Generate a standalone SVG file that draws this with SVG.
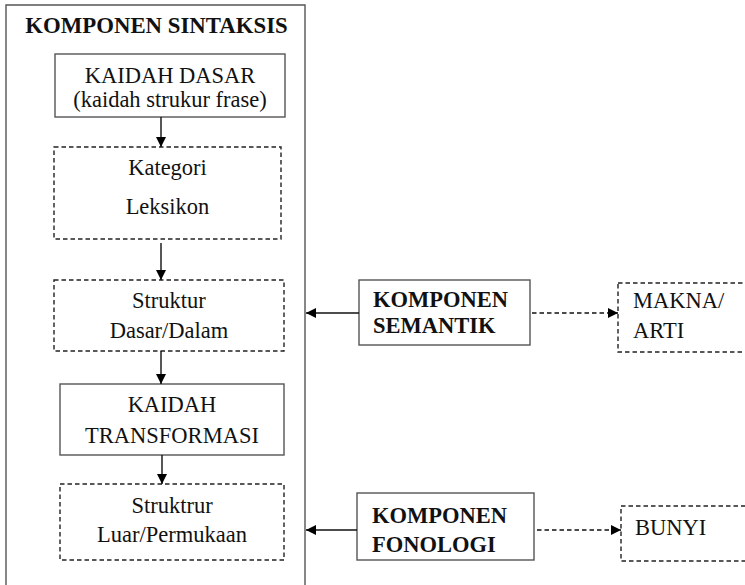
<svg xmlns="http://www.w3.org/2000/svg" width="745" height="585" viewBox="0 0 745 585">
  <defs>
    <marker id="arrow" viewBox="0 0 10 10" refX="10" refY="5" markerWidth="10" markerHeight="10" markerUnits="userSpaceOnUse" orient="auto">
      <path d="M0,0 L10,5 L0,10 Z" fill="#000"/>
    </marker>
  </defs>
  <style>
    text { font-family: 'Liberation Serif', 'Times New Roman', serif; font-size: 22.5px; fill: #111; }
    .b { font-weight: bold; }
    .t { font-size: 22.8px; }
    .c { text-anchor: middle; }
    .solid { fill: #fff; stroke: #555; stroke-width: 1.4; }
    .dash { fill: #fff; stroke: #222; stroke-width: 1.4; stroke-dasharray: 4.5 3; }
    .edge { stroke: #111; stroke-width: 1.4; fill: none; }
    .edge.d { stroke-dasharray: 4.5 3; }
  </style>
  <rect width="745" height="585" fill="#fff"/>

  <!-- syntax component frame (open at bottom) -->
  <g id="sintaksis">
    <path d="M6,590 L6,5 L305,5 L305,590" fill="none" stroke="#555" stroke-width="1.4"/>
    <text class="b c t" x="156.5" y="33">KOMPONEN SINTAKSIS</text>
  </g>

  <g id="kaidah-dasar">
    <rect class="solid" x="55" y="54" width="230" height="63"/>
    <text class="c" x="170" y="83">KAIDAH DASAR</text>
    <text class="c" x="170" y="107">(kaidah strukur frase)</text>
  </g>

  <g id="kategori-leksikon">
    <rect class="dash" x="54" y="147" width="227" height="92"/>
    <text class="c" x="167.5" y="175">Kategori</text>
    <text class="c" x="167.5" y="214">Leksikon</text>
  </g>

  <g id="struktur-dalam">
    <rect class="dash" x="54" y="280" width="230" height="71"/>
    <text class="c" x="169" y="308">Struktur</text>
    <text class="c" x="169" y="338">Dasar/Dalam</text>
  </g>

  <g id="kaidah-transformasi">
    <rect class="solid" x="60" y="384" width="224" height="71"/>
    <text class="c" x="172" y="412">KAIDAH</text>
    <text class="c" x="172" y="443">TRANSFORMASI</text>
  </g>

  <g id="struktur-luar">
    <rect class="dash" x="60" y="484" width="224" height="76"/>
    <text class="c" x="172" y="513">Struktrur</text>
    <text class="c" x="172" y="542">Luar/Permukaan</text>
  </g>

  <g id="semantik">
    <rect class="solid" x="359" y="280" width="171" height="65"/>
    <text class="b" x="373" y="307">KOMPONEN</text>
    <text class="b" x="373" y="333">SEMANTIK</text>
  </g>

  <g id="makna">
    <rect class="dash" x="618" y="283" width="140" height="69"/>
    <text x="633" y="308">MAKNA/</text>
    <text x="633" y="338">ARTI</text>
  </g>

  <g id="fonologi">
    <rect class="solid" x="357" y="493" width="177" height="67"/>
    <text class="b" x="372" y="523">KOMPONEN</text>
    <text class="b" x="372" y="552">FONOLOGI</text>
  </g>

  <g id="bunyi">
    <rect class="dash" x="621" y="506" width="140" height="55"/>
    <text x="635" y="535">BUNYI</text>
  </g>

  <g id="connectors">
    <line class="edge" x1="161" y1="117" x2="161" y2="147" marker-end="url(#arrow)"/>
    <line class="edge" x1="161" y1="243" x2="161" y2="280" marker-end="url(#arrow)"/>
    <line class="edge" x1="161" y1="351" x2="161" y2="384" marker-end="url(#arrow)"/>
    <line class="edge" x1="162" y1="455" x2="162" y2="484" marker-end="url(#arrow)"/>
    <line class="edge" x1="359" y1="313" x2="306" y2="313" marker-end="url(#arrow)"/>
    <line class="edge d" x1="532" y1="313" x2="618" y2="313" marker-end="url(#arrow)"/>
    <line class="edge" x1="357" y1="530" x2="306" y2="530" marker-end="url(#arrow)"/>
    <line class="edge d" x1="537" y1="530" x2="621" y2="530" marker-end="url(#arrow)"/>
  </g>
</svg>
